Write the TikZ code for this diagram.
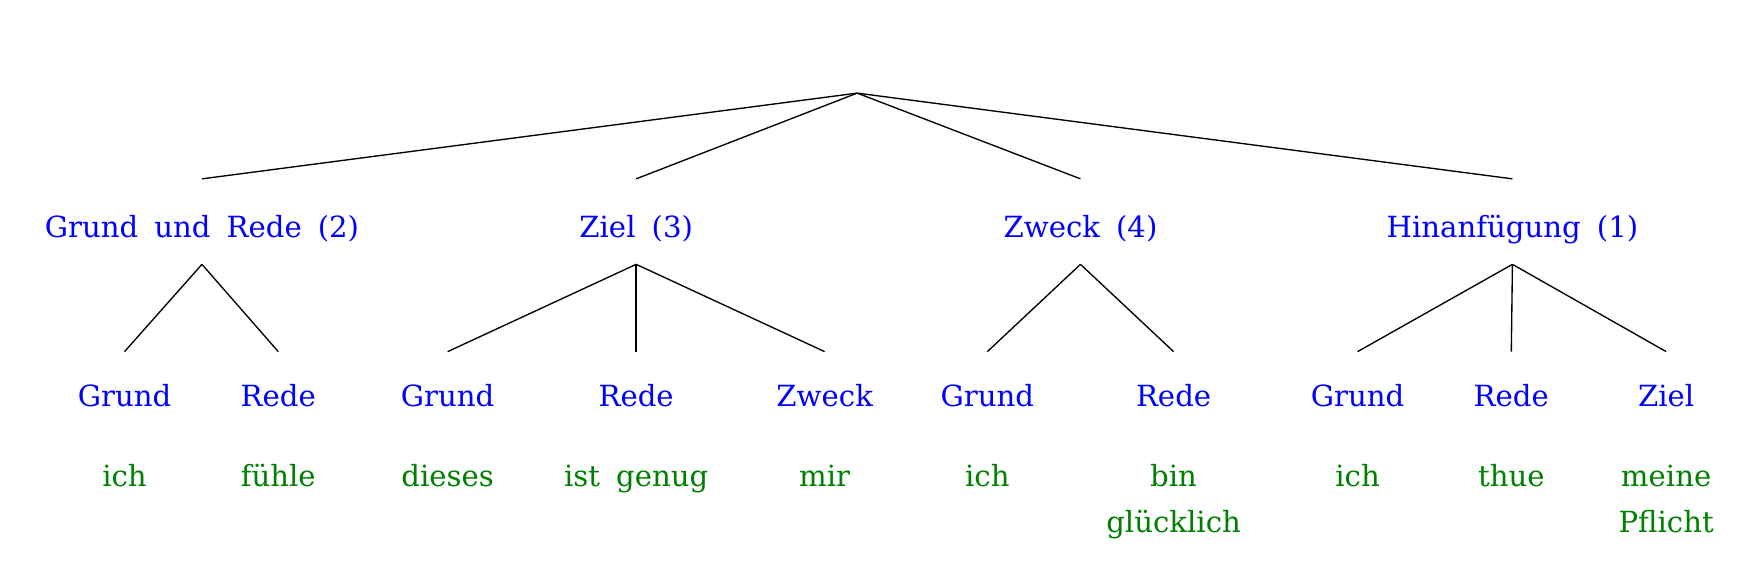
\documentclass[tikz,border=0pt]{standalone}
\usepackage{fontspec}
\setmainfont{DejaVu Serif}
\definecolor{relblue}{HTML}{0000FF}
\definecolor{wordgreen}{HTML}{008000}
\newcommand{\gap}{\hspace{0.55em}}

\begin{document}
\begin{tikzpicture}[x=0.5pt, y=-0.5pt]
    \useasboundingbox (0,0) rectangle (1566,508);
    \begin{scope}[font=\fontsize{13}{20.5}\selectfont,
        all/.style={inner sep=0pt, anchor=base, color=relblue},
        mid/.style={all, text height=26pt, text depth=11.5pt},
        leaf/.style={all, text height=24pt},
        word/.style={inner sep=0pt, anchor=base, color=wordgreen, align=center},
        line width=0.6pt]
        \coordinate (r0) at (764, 83);
        \node[mid] (m1) at (180, 212) {Grund\gap und\gap Rede\gap (2)};
        \node[mid] (m2) at (567, 212) {Ziel\gap (3)};
        \node[mid] (m3) at (963, 212) {Zweck\gap (4)};
        \node[mid] (m4) at (1348, 212) {Hinanfügung\gap (1)};
        \node[leaf] (t1) at (111, 362) {Grund};
        \node[leaf] (t2) at (248, 362) {Rede};
        \node[leaf] (t3) at (399, 362) {Grund};
        \node[leaf] (t4) at (567, 362) {Rede};
        \node[leaf] (t5) at (735, 362) {Zweck};
        \node[leaf] (t6) at (880, 362) {Grund};
        \node[leaf] (t7) at (1046, 362) {Rede};
        \node[leaf] (t8) at (1210, 362) {Grund};
        \node[leaf] (t9) at (1347, 362) {Rede};
        \node[leaf] (t10) at (1485, 362) {Ziel};
        \node[word] (w1) at (111, 434) {ich};
        \node[word] (w2) at (248, 434) {fühle};
        \node[word] (w3) at (399, 434) {dieses};
        \node[word] (w4) at (567, 434) {ist\gap genug};
        \node[word] (w5) at (735, 434) {mir};
        \node[word] (w6) at (880, 434) {ich};
        \node[word] (w7) at (1046, 475) {bin\\glücklich};
        \node[word] (w8) at (1210, 434) {ich};
        \node[word] (w9) at (1347, 434) {thue};
        \node[word] (w10) at (1485, 475) {meine\\Pflicht};
        \path (r0) edge (m1.north) edge (m2.north) edge (m3.north) edge (m4.north);
        \path (m1.south) edge (t1.north) edge (t2.north);
        \path (m2.south) edge (t3.north) edge (t4.north) edge (t5.north);
        \path (m3.south) edge (t6.north) edge (t7.north);
        \path (m4.south) edge (t8.north) edge (t9.north) edge (t10.north);
    \end{scope}
\end{tikzpicture}
\end{document}
